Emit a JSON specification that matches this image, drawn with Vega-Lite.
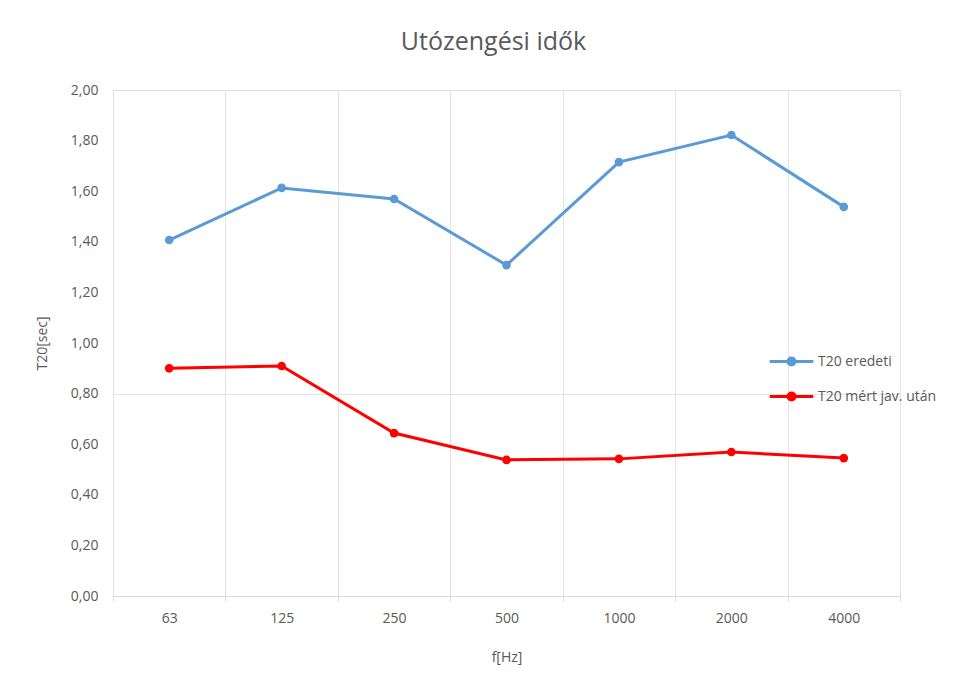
{
  "$schema": "https://vega.github.io/schema/vega-lite/v6.json",
  "width": 787,
  "height": 506,
  "autosize": {"type": "none"},
  "padding": {"left": 113, "top": 90, "right": 75, "bottom": 95},
  "background": "white",
  "title": {
    "text": "Utózengési idők",
    "fontSize": 25,
    "font": "Open Sans",
    "fontWeight": "normal",
    "color": "#595959",
    "anchor": "middle",
    "dx": -13,
    "baseline": "middle",
    "offset": 16
  },
  "data": {
    "values": [
      {"f": "63", "series": "T20 eredeti", "t20": 1.407},
      {"f": "125", "series": "T20 eredeti", "t20": 1.613},
      {"f": "250", "series": "T20 eredeti", "t20": 1.569},
      {"f": "500", "series": "T20 eredeti", "t20": 1.308},
      {"f": "1000", "series": "T20 eredeti", "t20": 1.715},
      {"f": "2000", "series": "T20 eredeti", "t20": 1.822},
      {"f": "4000", "series": "T20 eredeti", "t20": 1.538},
      {"f": "63", "series": "T20 mért jav. után", "t20": 0.900},
      {"f": "125", "series": "T20 mért jav. után", "t20": 0.909},
      {"f": "250", "series": "T20 mért jav. után", "t20": 0.644},
      {"f": "500", "series": "T20 mért jav. után", "t20": 0.538},
      {"f": "1000", "series": "T20 mért jav. után", "t20": 0.542},
      {"f": "2000", "series": "T20 mért jav. után", "t20": 0.569},
      {"f": "4000", "series": "T20 mért jav. után", "t20": 0.545}
    ]
  },
  "encoding": {
    "x": {
      "field": "f",
      "type": "ordinal",
      "sort": null,
      "scale": {"type": "band", "paddingInner": 0, "paddingOuter": 0},
      "axis": {
        "title": "f[Hz]",
        "titleFont": "Open Sans",
        "titleFontSize": 14,
        "titleFontWeight": "normal",
        "titleColor": "#595959",
        "titlePadding": 25,
        "labelFont": "Open Sans",
        "labelFontSize": 14,
        "labelColor": "#595959",
        "labelAngle": 0,
        "labelPadding": 10,
        "tickBand": "extent",
        "ticks": true,
        "tickSize": 5,
        "tickColor": "#d9d9d9",
        "domain": true,
        "domainColor": "#d9d9d9",
        "grid": true,
        "gridColor": "#e3e3e3",
        "gridWidth": 1
      }
    },
    "y": {
      "field": "t20",
      "type": "quantitative",
      "scale": {"domain": [0, 2], "nice": false, "zero": true},
      "axis": {
        "title": "T20[sec]",
        "titleFont": "Open Sans",
        "titleFontSize": 14,
        "titleFontWeight": "normal",
        "titleColor": "#595959",
        "titlePadding": 21,
        "labelFont": "Open Sans",
        "labelFontSize": 14,
        "labelColor": "#595959",
        "labelPadding": 15,
        "values": [0, 0.2, 0.4, 0.6, 0.8, 1.0, 1.2, 1.4, 1.6, 1.8, 2.0],
        "labelExpr": "replace(format(datum.value, '.2f'), '.', ',')",
        "ticks": false,
        "domain": false,
        "grid": true,
        "gridColor": "#e3e3e3",
        "gridOpacity": {"condition": {"test": "abs(datum.value - 0.8) < 0.001", "value": 1}, "value": 0}
      }
    },
    "color": {
      "field": "series",
      "type": "nominal",
      "scale": {
        "domain": ["T20 eredeti", "T20 mért jav. után"],
        "range": ["#5b9bd5", "#ff0000"]
      },
      "legend": {
        "title": null,
        "orient": "none",
        "legendX": 655,
        "legendY": 248,
        "labelFont": "Open Sans",
        "labelFontSize": 14,
        "labelColor": "#595959",
        "rowPadding": 2,
        "symbolType": "M-1,0L1,0M-0.16,0A0.16,0.16 0 1,0 0.16,0A0.16,0.16 0 1,0 -0.16,0Z",
        "symbolSize": 1900,
        "symbolStrokeWidth": 3,
        "labelOffset": 3
      }
    }
  },
  "layer": [
    {"mark": {"type": "line", "strokeWidth": 3}},
    {"mark": {"type": "point", "filled": true, "opacity": 1, "size": 75}}
  ]
}
